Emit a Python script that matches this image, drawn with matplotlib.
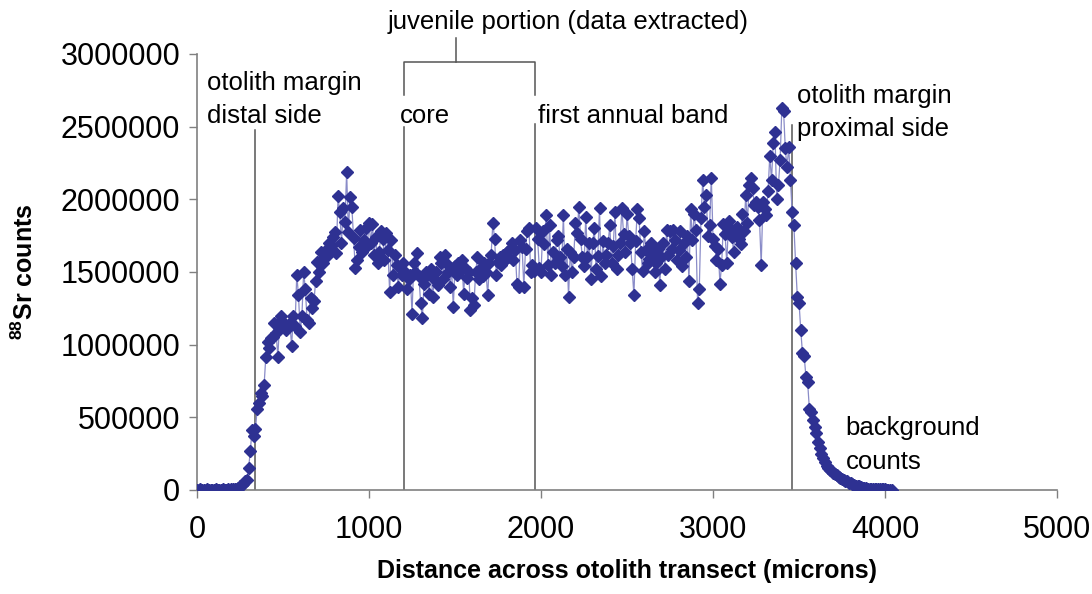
import numpy as np
import matplotlib.pyplot as plt

plt.rcParams['font.family'] = ['Liberation Sans', 'DejaVu Sans']
plt.rcParams['mathtext.fontset'] = 'custom'
plt.rcParams['mathtext.rm'] = 'Liberation Sans'
plt.rcParams['mathtext.bf'] = 'Liberation Sans:bold'

STEP = 10  # microns between laser spots
# 88Sr counts (thousands), one row per 100 microns starting at 0
sr_counts_k = [
    3, 2, 4, 3, 2, 3, 4, 2, 3, 3,
    2, 4, 3, 2, 3, 4, 3, 2, 4, 3,
    5, 6, 8, 10, 15, 25, 35, 40, 60, 70,
    150, 270, 410, 370, 420, 560, 600, 665, 650, 720,
    915, 1020, 975, 1045, 1055, 1150, 1080, 915, 1160, 1200,
    1120, 1140, 1100, 1130, 1150, 990, 1200, 1130, 1480, 1340,
    1090, 1200, 1500, 1380, 1170, 1150, 1320, 1250, 1300, 1440,
    1570, 1500, 1640, 1560, 1600, 1650, 1620, 1700, 1680, 1740,
    1775, 1630, 2020, 1910, 1700, 1940, 1845, 2190, 1775, 2015,
    1950, 1735, 1530, 1580, 1670, 1790, 1640, 1720, 1800, 1680,
    1840, 1700, 1830, 1620, 1740, 1560, 1640, 1780, 1730, 1580,
    1770, 1650, 1360, 1720, 1480, 1620, 1550, 1400, 1530, 1480,
    1560, 1500, 1380, 1450, 1480, 1210, 1560, 1500, 1630, 1470,
    1290, 1180, 1420, 1500, 1480, 1350, 1520, 1330, 1450, 1500,
    1410, 1600, 1560, 1450, 1620, 1560, 1500, 1400, 1520, 1260,
    1540, 1480, 1560, 1510, 1580, 1350, 1530, 1460, 1500, 1240,
    1320, 1270, 1500, 1600, 1450, 1530, 1470, 1560, 1500, 1340,
    1560, 1620, 1840, 1730, 1480, 1570, 1600, 1550, 1620, 1580,
    1640, 1600, 1660, 1700, 1580, 1650, 1420, 1400, 1720, 1670,
    1400, 1660, 1780, 1800, 1500, 1550, 1510, 1800, 1730, 1530,
    1500, 1780, 1690, 1890, 1550, 1820, 1480, 1640, 1560, 1720,
    1750, 1600, 1540, 1890, 1480, 1660, 1330, 1640, 1500, 1600,
    1840, 1770, 1950, 1730, 1600, 1540, 1880, 1600, 1700, 1450,
    1700, 1800, 1520, 1610, 1940, 1470, 1710, 1560, 1620, 1700,
    1820, 1560, 1680, 1910, 1520, 1620, 1700, 1940, 1760, 1640,
    1900, 1750, 1700, 1520, 1340, 1710, 1930, 1870, 1640, 1510,
    1780, 1650, 1560, 1590, 1700, 1620, 1500, 1560, 1660, 1410,
    1600, 1700, 1520, 1790, 1620, 1780, 1660, 1790, 1720, 1580,
    1650, 1780, 1540, 1700, 1600, 1750, 1440, 1930, 1720, 1900,
    1790, 1290, 1380, 1870, 2130, 1950, 2030, 1750, 1820, 2150,
    1730, 1680, 1580, 1660, 1420, 1550, 1830, 1760, 1560, 1850,
    1800, 1740, 1640, 1780, 1810, 1730, 1690, 1900, 1780, 2030,
    1840, 2100, 2150, 2080, 1960, 1980, 1950, 1860, 1550, 1980,
    1930, 1890, 2060, 2300, 2130, 2390, 2460, 2000, 2100, 2270,
    2630, 2610, 2350, 2220, 2360, 2130, 1910, 1820, 1560, 1330,
    1290, 1100, 940, 920, 780, 740, 560, 540, 480, 430,
    390, 330, 290, 250, 220, 190, 165, 150, 140, 130,
    120, 110, 100, 90, 80, 75, 70, 65, 60, 50,
    45, 40, 35, 30, 28, 25, 20, 17, 15, 12,
    10, 9, 8, 7, 6, 6, 5, 5, 4, 4,
    4, 3, 3, 3, 3,
]

# marker lines (microns)
DISTAL = 335
CORE = 1205
BAND = 1965
PROXIMAL = 3460

counts = np.array(sr_counts_k) * 1000
distance = np.arange(len(counts)) * STEP

fig = plt.figure(figsize=(10.92, 5.94), dpi=100)
ax = fig.add_axes([0.1804, 0.1751, 0.7876, 0.7340])

ax.plot(distance, counts, color='#8a8cc8', lw=0.9, zorder=3)
ax.plot(distance, counts, ls='none', marker='D', ms=6, color='#2e3192',
        mec='#2e3192', zorder=4)

ax.set_xlim(0, 5000)
ax.set_ylim(0, 3000000)
ax.set_xticks([0, 1000, 2000, 3000, 4000, 5000])
ax.set_yticks(np.arange(0, 3000001, 500000))
ax.ticklabel_format(axis='y', style='plain', useOffset=False)
ax.tick_params(direction='out', length=6, width=1, color='#808080',
               labelsize=22, pad=6)
ax.tick_params(axis='x', pad=12)
for s in ['top', 'right']:
    ax.spines[s].set_visible(False)
for s in ['left', 'bottom']:
    ax.spines[s].set_color('#808080')
    ax.spines[s].set_linewidth(1.2)

ax.set_xlabel('Distance across otolith transect (microns)', fontsize=18,
              fontweight='bold', labelpad=10)
ax.set_ylabel(r'$^{\mathbf{88}}$Sr counts', fontsize=18, fontweight='bold',
              labelpad=16)

lc = '#555555'
# vertical reference lines
ax.plot([DISTAL, DISTAL], [0, 2480000], color=lc, lw=1.1, zorder=2)
ax.plot([CORE, CORE], [0, 2500000], color=lc, lw=1.1, zorder=2)
ax.plot([BAND, BAND], [0, 2520000], color=lc, lw=1.1, zorder=2)
ax.plot([PROXIMAL, PROXIMAL], [0, 2510000], color=lc, lw=1.1, zorder=2)

# bracket for juvenile portion
mid = (CORE + BAND) / 2 - 80
ax.plot([CORE, CORE, BAND, BAND], [2720000, 2945000, 2945000, 2720000],
        color=lc, lw=1.1, clip_on=False)
ax.plot([mid, mid], [2945000, 3110000], color=lc, lw=1.1, clip_on=False)

fs = 18.5
ax.text(2160, 3220000, 'juvenile portion (data extracted)', fontsize=fs,
        ha='center', va='center', clip_on=False)
ax.text(60, 2800000, 'otolith margin', fontsize=fs, va='center')
ax.text(60, 2575000, 'distal side', fontsize=fs, va='center')
ax.text(1180, 2575000, 'core', fontsize=fs, va='center')
ax.text(1985, 2575000, 'first annual band', fontsize=fs, va='center')
ax.text(3490, 2710000, 'otolith margin', fontsize=fs, va='center')
ax.text(3490, 2485000, 'proximal side', fontsize=fs, va='center')
ax.text(3770, 425000, 'background', fontsize=fs, va='center')
ax.text(3770, 190000, 'counts', fontsize=fs, va='center')

fig.savefig('out.png', dpi=100)
